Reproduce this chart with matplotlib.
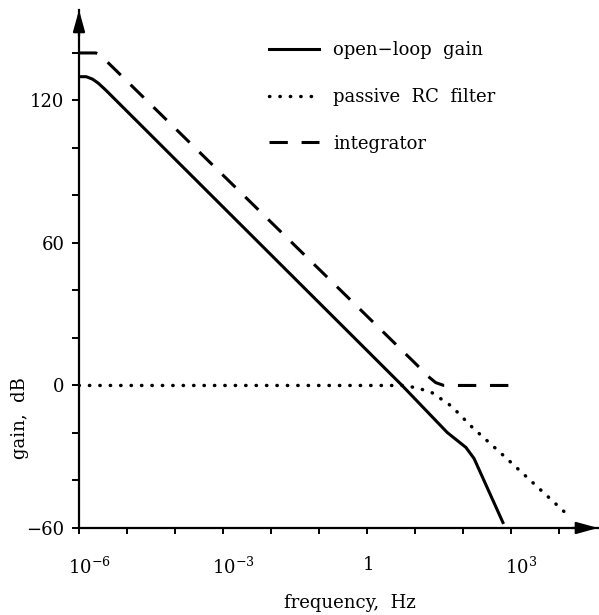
import numpy as np
import matplotlib
matplotlib.use("Agg")
import matplotlib.pyplot as plt
from matplotlib.transforms import ScaledTranslation

# datos (exponente de la frecuencia, ganancia en dB)
openloop_logf = [-6.0, -5.85, -5.72, -5.6, -5.45, 0.73, 1.67, 2.06, 2.23, 2.83]
openloop_db = [130, 130, 129, 127.3, 124.5, 0, -19.8, -26.1, -30.8, -57.7]

rc_logf = [-6.0, 0.8, 1.12, 1.35, 1.71, 1.88, 2.19, 2.82, 4.19]
rc_db = [0, 0, -1.5, -3.0, -8.0, -11.2, -17.6, -29.1, -54.7]

integ_logf = [-6.0, -5.65, -5.55, -5.45, 1.04, 1.25, 1.43, 1.6, 3.0]
integ_db = [140, 140, 139, 137, 8.6, 4.2, 1.2, 0, 0]

labels = ["open\u2212loop  gain", "passive  RC  filter", "integrator"]

yticks = [-60, 0, 60, 120]
yticklabels = ["\u221260", "0", "60", "120"]
yminor = [-40, -20, 20, 40, 80, 100, 140]
xtick_exp = list(range(-6, 5))
xticklabels = {-6: r"$10^{-6}$", -3: r"$10^{-3}$", 0: r"$1$", 3: r"$10^{3}$"}

plt.rcParams["font.family"] = ["DejaVu Serif"]
plt.rcParams["mathtext.fontset"] = "dejavuserif"


def main():
    fig = plt.figure(figsize=(5.99, 6.15), dpi=100)
    ax = fig.add_axes([0.1319, 0.1415, 0.8664, 0.8423])

    ax.plot(10 ** np.array(openloop_logf), openloop_db, color="k", lw=2.2,
            label=labels[0])
    ax.plot(10 ** np.array(rc_logf), rc_db, color="k", lw=2.5,
            linestyle=(0, (0.1, 2.9)), dash_capstyle="round", label=labels[1])
    ax.plot(10 ** np.array(integ_logf), integ_db, color="k", lw=2.2,
            linestyle=(0, (6, 4.5)), label=labels[2])

    ax.set_xscale("log")
    ax.set_xlim(1e-6, 10 ** 4.81)
    ax.set_ylim(-60, 158.1)

    # solo ejes izquierdo e inferior, con flechas
    for s in ["top", "right"]:
        ax.spines[s].set_visible(False)
    for s in ["left", "bottom"]:
        ax.spines[s].set_linewidth(1.6)
    arrow = dict(arrowstyle="-|>,head_length=1.3,head_width=0.36", color="k",
                 lw=1.6, mutation_scale=10, shrinkA=0, shrinkB=0)
    ax.annotate("", xy=(0, 1), xytext=(0, 0.95), xycoords="axes fraction",
                arrowprops=arrow)
    ax.annotate("", xy=(1, 0), xytext=(0.95, 0), xycoords="axes fraction",
                arrowprops=arrow)

    ax.set_yticks(yticks)
    ax.set_yticklabels(yticklabels)
    ax.set_yticks(yminor, minor=True)
    ax.set_xticks([10.0 ** e for e in xtick_exp])
    ax.set_xticklabels([xticklabels.get(e, "") for e in xtick_exp])
    ax.xaxis.set_minor_locator(matplotlib.ticker.NullLocator())

    ax.tick_params(axis="y", which="both", direction="out", length=5,
                   width=1.4, pad=5.5, labelsize=13)
    ax.tick_params(axis="x", which="major", direction="out", length=4.3,
                   width=1.4, pad=16, labelsize=13)

    # el "10" queda centrado bajo la marca, el exponente sobresale
    shift = ScaledTranslation(10 / 100, 0, fig.dpi_scale_trans)
    for e, lab in zip(xtick_exp, ax.get_xticklabels()):
        if e in (-6, -3, 3):
            lab.set_transform(lab.get_transform() + shift)

    ax.set_xlabel("frequency,  Hz", fontsize=13)
    ax.xaxis.set_label_coords(0.521, -0.128)
    ax.set_ylabel("gain,  dB", fontsize=13)
    ax.yaxis.set_label_coords(-0.097, 0.212)

    ax.legend(loc="upper left", bbox_to_anchor=(269 / 599, 1 - 41 / 615),
              bbox_transform=fig.transFigure, frameon=False, fontsize=13,
              handlelength=2.75, handletextpad=0.8, labelspacing=1.6,
              borderpad=0, borderaxespad=0)

    plt.savefig("out.png", dpi=100)


if __name__ == "__main__":
    main()
